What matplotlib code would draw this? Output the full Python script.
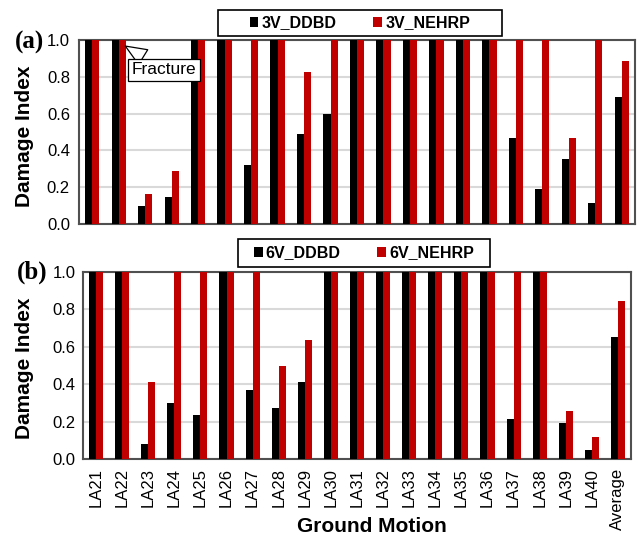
import numpy as np
import matplotlib.pyplot as plt
from matplotlib.patches import Rectangle

# ground motions
motions = ['LA21', 'LA22', 'LA23', 'LA24', 'LA25', 'LA26', 'LA27', 'LA28', 'LA29', 'LA30',
           'LA31', 'LA32', 'LA33', 'LA34', 'LA35', 'LA36', 'LA37', 'LA38', 'LA39', 'LA40',
           'Average']

# (a) 3-storey frames
ddbd_3v = [1.0, 1.0, 0.10, 0.145, 1.0, 1.0, 0.32, 1.0, 0.49, 0.60,
           1.0, 1.0, 1.0, 1.0, 1.0, 1.0, 0.465, 0.19, 0.355, 0.115, 0.69]
nehrp_3v = [1.0, 1.0, 0.165, 0.29, 1.0, 1.0, 1.0, 1.0, 0.825, 1.0,
            1.0, 1.0, 1.0, 1.0, 1.0, 1.0, 1.0, 1.0, 0.47, 1.0, 0.885]

# (b) 6-storey frames
ddbd_6v = [1.0, 1.0, 0.08, 0.30, 0.235, 1.0, 0.37, 0.275, 0.41, 1.0,
           1.0, 1.0, 1.0, 1.0, 1.0, 1.0, 0.215, 1.0, 0.195, 0.05, 0.655]
nehrp_6v = [1.0, 1.0, 0.41, 1.0, 1.0, 1.0, 1.0, 0.495, 0.635, 1.0,
            1.0, 1.0, 1.0, 1.0, 1.0, 1.0, 1.0, 1.0, 0.255, 0.12, 0.845]

RED = '#C00000'
plt.rcParams['font.family'] = ['Liberation Sans', 'DejaVu Sans']
SERIF = ['Liberation Serif', 'DejaVu Serif']

fig = plt.figure(figsize=(6.38, 5.35), dpi=100)
W, H = 638, 535

def px_axes(x0, y0, x1, y1):
    return fig.add_axes([x0 / W, 1 - y1 / H, (x1 - x0) / W, (y1 - y0) / H])

def px(xp, yp):
    return xp / W, 1 - yp / H

ax1 = px_axes(79, 40, 635, 224)
ax2 = px_axes(83, 272, 631, 459)

x = np.arange(len(motions))
bw = 0.27

def draw(ax, d, n, lab_d, lab_n, frame, pad_left):
    ax.bar(x - bw / 2, d, bw, color='black', label=lab_d, zorder=3)
    ax.bar(x + bw / 2, n, bw, color=RED, label=lab_n, zorder=3)
    ax.set_xlim(-0.5, len(motions) - 0.5)
    ax.set_ylim(0, 1.0)
    ticks = np.arange(0, 1.01, 0.2)
    ax.set_yticks(ticks)
    ax.set_yticklabels([f'{v:.1f}' for v in ticks], fontsize=12)
    ax.yaxis.grid(True, color='#D9D9D9', lw=1.5, zorder=0)
    ax.tick_params(axis='y', length=0, pad=pad_left)
    ax.tick_params(axis='x', length=0, pad=6.5)
    for s in ax.spines.values():
        s.set_color('#505050')
        s.set_linewidth(1.5)
    # legend box (frame drawn separately)
    fx0, fy0, fx1, fy1 = frame
    cx, cy = px((fx0 + fx1) / 2, (fy0 + fy1) / 2)
    ax.legend(loc='center', bbox_to_anchor=(cx, cy), bbox_transform=fig.transFigure,
              ncol=2, frameon=False, handlelength=0.55, handleheight=0.55,
              handletextpad=0.2, columnspacing=2.3, borderpad=0, borderaxespad=0,
              prop={'weight': 'bold', 'size': 11.5})
    rx, ry = px(fx0, fy1)
    fig.add_artist(Rectangle((rx, ry), (fx1 - fx0) / W, (fy1 - fy0) / H,
                             transform=fig.transFigure, fill=False, ec='black', lw=1.2))

draw(ax1, ddbd_3v, nehrp_3v, '3V_DDBD', '3V_NEHRP', (218, 10, 502, 36), 6.5)
draw(ax2, ddbd_6v, nehrp_6v, '6V_DDBD', '6V_NEHRP', (238, 239, 490, 267), 5.5)

ax1.set_xticks(x)
ax1.set_xticklabels([])
ax2.set_xticks(x)
ax2.set_xticklabels(motions, rotation=90, fontsize=12)

# panel letters and axis titles
fig.text(*px(30, 42), '(a)', fontsize=18, fontweight='bold', family=SERIF,
         ha='center', va='center')
fig.text(*px(32, 272), '(b)', fontsize=18, fontweight='bold', family=SERIF,
         ha='center', va='center')
fig.text(*px(25, 136), 'Damage Index', fontsize=15, fontweight='bold',
         rotation=90, ha='center', va='center')
fig.text(*px(25, 368), 'Damage Index', fontsize=15, fontweight='bold',
         rotation=90, ha='center', va='center')
fig.text(*px(372, 526), 'Ground Motion', fontsize=15, fontweight='bold',
         ha='center', va='center')

ax1.annotate('Fracture', xy=(1.16, 0.975), xytext=(2.71, 0.837), fontsize=12.5,
             ha='center', va='center', zorder=5,
             bbox=dict(boxstyle='square,pad=0.2', fc='white', ec='black', lw=0.9),
             arrowprops=dict(arrowstyle='wedge,tail_width=1.0,shrink_factor=0.5',
                             fc='white', ec='black', lw=0.9))

fig.savefig('out.png', dpi=100)
